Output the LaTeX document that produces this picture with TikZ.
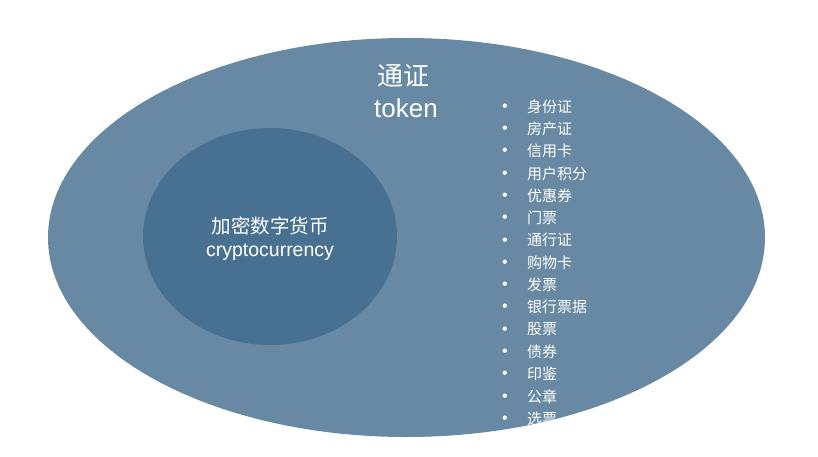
\documentclass[tikz,border=0pt]{standalone}
\usepackage{fontspec}
\setmainfont{Liberation Sans}
\newfontfamily\cjk{Noto Sans CJK SC}
\definecolor{outerblue}{RGB}{103,137,163}
\definecolor{innerblue}{RGB}{72,112,145}
\begin{document}
\begin{tikzpicture}[x=1pt,y=-1pt,
  bigtxt/.style={text=white,font=\fontsize{26}{30}\selectfont,inner sep=0pt},
  midtxt/.style={text=white,font=\fontsize{19.5}{23}\selectfont,inner sep=0pt},
  itemtxt/.style={text=white,font=\cjk\fontsize{15}{18}\selectfont,inner sep=0pt,anchor=west},
  bullettxt/.style={text=white,font=\fontsize{16}{18}\selectfont,inner sep=0pt}]
\useasboundingbox (0,0) rectangle (818,457);
\fill[outerblue] (406.5,237.5) ellipse [x radius=358.5, y radius=199.5];
\fill[innerblue] (270,236.5) ellipse [x radius=127, y radius=108.5];
\node[bigtxt,font=\cjk\fontsize{26}{30}\selectfont] (t1) at (403,76) {通证};
\node[bigtxt] (t2) at (406,108) {token};
\node[midtxt,font=\cjk\fontsize{19.5}{23}\selectfont] (c1) at (270,226) {加密数字货币};
\node[midtxt] (c2) at (270,252) {cryptocurrency};
\begin{scope}
\clip (406.5,237.5) ellipse [x radius=358.5, y radius=199.5];
\foreach \t [count=\i from 0] in {身份证,房产证,信用卡,用户积分,优惠券,门票,通行证,购物卡,发票,银行票据,股票,债券,印鉴,公章,选票}{
  \node[bullettxt] (b\i) at (505,107.5+22.3*\i) {•};
  \node[itemtxt] (l\i) at (527,106.5+22.3*\i) {\t};
}
\end{scope}
\end{tikzpicture}
\end{document}
